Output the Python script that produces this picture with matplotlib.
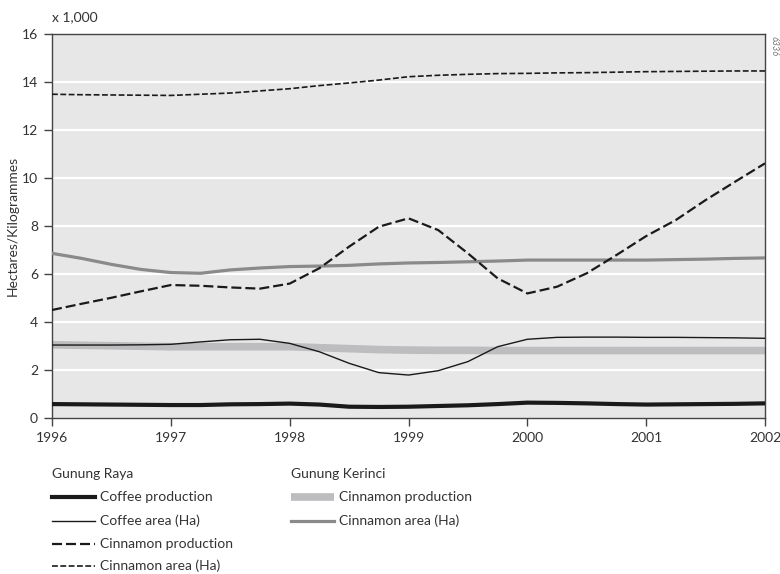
import matplotlib
matplotlib.use("Agg")
import matplotlib.pyplot as plt
from matplotlib.lines import Line2D

plt.rcParams['font.family'] = ['Lato', 'DejaVu Sans']

# quarter-year sample points, 1996 .. 2002
years = [1996 + 0.25 * i for i in range(25)]

raya_coffee_prod = [0.58, 0.57, 0.56, 0.55, 0.54, 0.54, 0.57, 0.58, 0.60, 0.56, 0.47, 0.46,
                    0.47, 0.50, 0.53, 0.58, 0.64, 0.63, 0.61, 0.58, 0.56, 0.57, 0.58, 0.59, 0.61]
raya_coffee_area = [3.04, 3.04, 3.04, 3.05, 3.07, 3.17, 3.26, 3.28, 3.11, 2.76, 2.28, 1.89,
                    1.79, 1.97, 2.35, 2.97, 3.28, 3.36, 3.37, 3.37, 3.36, 3.36, 3.35, 3.34, 3.32]
raya_cinn_prod = [4.50, 4.76, 5.01, 5.28, 5.54, 5.51, 5.44, 5.39, 5.60, 6.24, 7.14, 7.97,
                  8.32, 7.83, 6.86, 5.82, 5.19, 5.47, 6.03, 6.79, 7.58, 8.25, 9.08, 9.85, 10.61]
raya_cinn_area = [13.49, 13.47, 13.46, 13.45, 13.44, 13.49, 13.54, 13.63, 13.72, 13.85, 13.96, 14.08,
                  14.22, 14.28, 14.32, 14.35, 14.36, 14.38, 14.39, 14.41, 14.43, 14.44, 14.45, 14.46, 14.46]
kerinci_cinn_prod = [3.05, 3.03, 3.01, 2.99, 2.97, 2.97, 2.97, 2.97, 2.97, 2.93, 2.89, 2.85,
                     2.83, 2.82, 2.82, 2.81, 2.81, 2.81, 2.81, 2.81, 2.81, 2.81, 2.81, 2.81, 2.81]
kerinci_cinn_area = [6.86, 6.65, 6.40, 6.19, 6.06, 6.03, 6.17, 6.25, 6.31, 6.33, 6.36, 6.42,
                     6.46, 6.48, 6.51, 6.54, 6.58, 6.58, 6.58, 6.58, 6.58, 6.60, 6.62, 6.65, 6.67]

year_ticks = [1996, 1997, 1998, 1999, 2000, 2001, 2002]
y_ticks = [0, 2, 4, 6, 8, 10, 12, 14, 16]

TXT = '#333333'
FS = 10
fig = plt.figure(figsize=(7.8, 5.74), dpi=100)
ax = fig.add_axes([52/780, 1-418/574, (765-52)/780, (418-34)/574])
ax.set_facecolor('#e6e7e6')
ax.set_xlim(1996, 2002)
ax.set_ylim(0, 16)
for v in y_ticks[1:-1]:
    ax.axhline(v, color='white', lw=1.6, zorder=1)

CP_DASH = (4.5, 1.8)
CA_DASH = (3.5, 1.5)
ax.plot(years, kerinci_cinn_prod, color='#bdbdbf', lw=5.5, solid_capstyle='butt', zorder=2)
ax.plot(years, kerinci_cinn_area, color='#8a8a8a', lw=2.3, zorder=3)
ax.plot(years, raya_coffee_area, color='#1a1a1a', lw=1.0, zorder=4)
ax.plot(years, raya_coffee_prod, color='#1a1a1a', lw=3.0, zorder=4)
ax.plot(years, raya_cinn_prod, color='#1a1a1a', lw=1.6, dashes=CP_DASH, zorder=5)
ax.plot(years, raya_cinn_area, color='#1a1a1a', lw=1.2, dashes=CA_DASH, zorder=5)

ax.set_xticks(year_ticks)
ax.set_xticklabels([str(y) for y in year_ticks])
ax.set_yticks(y_ticks)
ax.set_yticklabels([str(v) for v in y_ticks])
ax.tick_params(axis='both', direction='out', length=6, width=1, color='#444444',
               labelsize=FS, labelcolor=TXT, pad=4)
for s in ax.spines.values():
    s.set_color('#444444')
    s.set_linewidth(1.0)

fig.text(52/780, 1-17/574, 'x 1,000', fontsize=FS, color=TXT, ha='left', va='center')
fig.text(13/780, 1-226/574, 'Hectares/Kilogrammes', fontsize=FS, color=TXT,
         rotation=90, ha='center', va='center')
fig.text(774/780, 1-46/574, '6336', fontsize=6.5, color='#777777', rotation=270,
         ha='center', va='center', style='italic')

# legend
def legend_item(x0, y, label, **kw):
    line = Line2D([x0/780, (x0+43)/780], [1-y/574, 1-y/574], transform=fig.transFigure, **kw)
    fig.add_artist(line)
    fig.text((x0+48)/780, 1-y/574, label, fontsize=FS, color=TXT, ha='left', va='center')

fig.text(52/780, 1-474/574, 'Gunung Raya', fontsize=FS, color=TXT, ha='left', va='center')
legend_item(52, 497, 'Coffee production', color='#1a1a1a', lw=3.0)
legend_item(52, 521, 'Coffee area (Ha)', color='#1a1a1a', lw=1.0)
legend_item(52, 544, 'Cinnamon production', color='#1a1a1a', lw=1.6, dashes=CP_DASH)
legend_item(52, 566, 'Cinnamon area (Ha)', color='#1a1a1a', lw=1.2, dashes=CA_DASH)

fig.text(291/780, 1-474/574, 'Gunung Kerinci', fontsize=FS, color=TXT, ha='left', va='center')
legend_item(291, 497, 'Cinnamon production', color='#bdbdbf', lw=5.5, solid_capstyle='butt')
legend_item(291, 521, 'Cinnamon area (Ha)', color='#8a8a8a', lw=2.3)

fig.savefig('out.png', dpi=100)
